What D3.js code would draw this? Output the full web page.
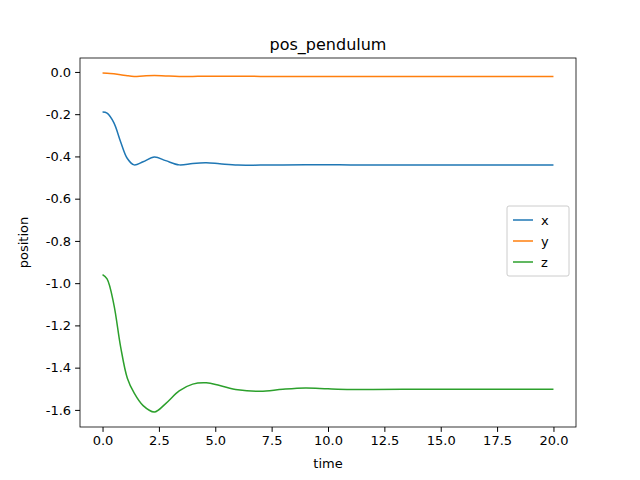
<!DOCTYPE html>
<html><head><meta charset="utf-8">
<script src="https://cdn.jsdelivr.net/npm/d3@7"></script>
<style>body{margin:0;background:#fff}text{font-family:"DejaVu Sans",sans-serif}</style>
</head><body><svg id="chart" width="640" height="480"></svg>
<script>
// values
var time = [0, 0.2, 0.5, 0.8, 1.1, 1.4, 1.8, 2.3, 2.8, 3.4, 4.0, 4.6, 5.2, 6.0, 7.0, 8.0, 9.0, 10.0, 11.0, 12.0, 14.0, 16.0, 18.0, 20.0];
var xs = [-0.19, -0.195, -0.24, -0.33, -0.41, -0.44, -0.425, -0.403, -0.42, -0.44, -0.433, -0.43, -0.435, -0.441, -0.441, -0.44, -0.439, -0.439, -0.44, -0.44, -0.44, -0.44, -0.44, -0.44];
var ys = [-0.005, -0.006, -0.009, -0.013, -0.018, -0.021, -0.019, -0.017, -0.019, -0.021, -0.021, -0.02, -0.02, -0.02, -0.021, -0.021, -0.021, -0.021, -0.021, -0.021, -0.021, -0.021, -0.021, -0.021];
var zs = [-0.96, -0.98, -1.1, -1.3, -1.45, -1.52, -1.58, -1.61, -1.57, -1.51, -1.478, -1.472, -1.485, -1.505, -1.512, -1.502, -1.496, -1.5, -1.503, -1.503, -1.502, -1.502, -1.502, -1.502];
var seriesNames = ["x", "y", "z"];
var colors = ["#1f77b4", "#ff7f0e", "#2ca02c"];
var xTicks = [0, 2.5, 5, 7.5, 10, 12.5, 15, 17.5, 20];
var yTicks = [0, -0.2, -0.4, -0.6, -0.8, -1.0, -1.2, -1.4, -1.6];

var svg = d3.select('#chart');
var L = 80, R = 576, T = 58, B = 427;
var x = d3.scaleLinear().domain([-1, 21]).range([L, R]);
var y = d3.scaleLinear().domain([0.066, -1.681]).range([T, B]);

var line = d3.line().x(function(d){ return x(d[0]); }).y(function(d){ return y(d[1]); }).curve(d3.curveCatmullRom);
[xs, ys, zs].forEach(function(s, i){
  svg.append('path').datum(time.map(function(t, k){ return [t, s[k]]; }))
    .attr('d', line).attr('fill', 'none').attr('stroke', colors[i]).attr('stroke-width', 1.5);
});

svg.append('g').attr('transform', 'translate(0,' + B + ')')
  .call(d3.axisBottom(x).tickValues(xTicks).tickFormat(d3.format('.1f')).tickSizeOuter(0).tickSize(4.9).tickPadding(4));
svg.append('g').attr('transform', 'translate(' + L + ',0)')
  .call(d3.axisLeft(y).tickValues(yTicks).tickFormat(function(d){ return d3.format('.1f')(d).replace('−', '-'); }).tickSizeOuter(0).tickSize(4.9).tickPadding(4));
svg.selectAll('.tick text').attr('font-size', 13).attr('fill', '#000').style('font-family', 'DejaVu Sans');
svg.selectAll('.domain').remove();
svg.append('rect').attr('x', L).attr('y', T).attr('width', R - L).attr('height', B - T)
  .attr('fill', 'none').attr('stroke', '#000').attr('stroke-width', 0.8);

svg.append('text').attr('x', (L + R) / 2).attr('y', 50).attr('text-anchor', 'middle').attr('font-size', 16).text('pos_pendulum');
svg.append('text').attr('x', (L + R) / 2).attr('y', 468).attr('text-anchor', 'middle').attr('font-size', 13).text('time');
svg.append('text').attr('transform', 'translate(28,' + ((T + B) / 2) + ') rotate(-90)').attr('text-anchor', 'middle').attr('font-size', 13).text('position');

var lg = svg.append('g').attr('transform', 'translate(507,206)');
lg.append('rect').attr('width', 62).attr('height', 70).attr('rx', 2).attr('fill', '#fff').attr('stroke', '#ccc');
seriesNames.forEach(function(n, i){
  var yy = 14 + i * 21;
  lg.append('line').attr('x1', 6).attr('x2', 26).attr('y1', yy).attr('y2', yy).attr('stroke', colors[i]).attr('stroke-width', 1.5);
  lg.append('text').attr('x', 34).attr('y', yy + 4.5).attr('font-size', 13).text(n);
});
</script></body></html>
